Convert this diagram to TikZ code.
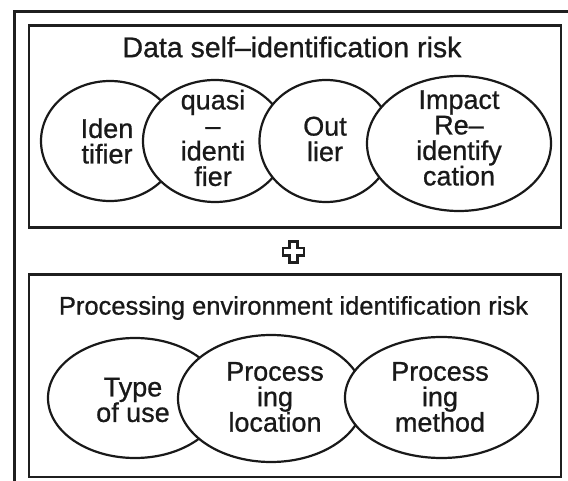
\documentclass[tikz,border=0pt]{standalone}
\usepackage{fontspec}
\setmainfont{Liberation Sans}
\newfontfamily\medfont{Liberation Sans}[BoldFont={Liberation Sans},BoldFeatures={FakeBold=0.8}]
\usetikzlibrary{shapes.geometric}
\begin{document}
\begin{tikzpicture}[x=1pt,y=-1pt,
  frame/.style={draw=black!88, line width=2.6pt},
  panel/.style={frame, rectangle, anchor=north west, inner sep=0pt},
  bub/.style={ellipse, draw=black!90, line width=2.2pt, fill=white, inner sep=0pt},
  lbl/.style={align=center, font=\medfont\bfseries\fontsize{27}{25.5}\selectfont, inner sep=0pt, text=black!90},
  ttl/.style={inner sep=0pt, text=black!90}]
\useasboundingbox (0,0) rectangle (568,481);
\fill[white] (0,0) rectangle (568,481);
% outer frame (open to the right and bottom)
\coordinate (ob) at (14.5,481);
\coordinate (otl) at (14.5,11.5);
\coordinate (otr) at (568,11.5);
\draw[frame] (ob) -- (otl) -- (otr);
% panels
\node[panel, minimum width=532pt, minimum height=202.5pt] (p1) at (27.5,24) {};
\node[panel, minimum width=532pt, minimum height=202pt] (p2) at (27.5,273.5) {};
% titles
\node[ttl, font=\medfont\bfseries\fontsize{28.5}{30}\selectfont] (t1) at (292,47) {Data self–identification risk};
\node[ttl, font=\medfont\bfseries\fontsize{25.5}{28}\selectfont] (t2) at (293.5,308) {Processing environment identification risk};
% top row
\node[bub, minimum width=138pt, minimum height=120pt] (c1) at (110,141) {};
\node[bub, minimum width=144pt, minimum height=122pt] (c2) at (215,141) {};
\node[bub, minimum width=133pt, minimum height=122pt] (c3) at (326,141) {};
\node[bub, minimum width=184pt, minimum height=135pt] (c4) at (459,143.5) {};
\node[lbl] (l1) at (107,141) {Iden\\tifier};
\node[lbl] (l2) at (213,138) {quasi\\–\\identi\\fier};
\node[lbl] (l3) at (325,139) {Out\\lier};
\node[lbl] (l4) at (459,138) {Impact\\Re–\\identify\\cation};
% bottom row
\node[bub, minimum width=174pt, minimum height=120pt] (d1) at (135,398) {};
\node[bub, minimum width=186pt, minimum height=127pt] (d2) at (271,398.5) {};
\node[bub, minimum width=193pt, minimum height=121pt] (d3) at (441.5,397.5) {};
\node[lbl] (m1) at (133,400) {Type\\of use};
\node[lbl] (m2) at (275,397) {Process\\ing\\location};
\node[lbl] (m3) at (440,397) {Process\\ing\\method};
% plus sign
\begin{scope}[shift={(293.5,252)}]
\draw[draw=black!88, line width=2.6pt, line join=miter]
  (-3.8,-10.5) -- (3.8,-10.5) -- (3.8,-3.8) -- (10.5,-3.8) -- (10.5,3.8) -- (3.8,3.8)
  -- (3.8,10.5) -- (-3.8,10.5) -- (-3.8,3.8) -- (-10.5,3.8) -- (-10.5,-3.8) -- (-3.8,-3.8) -- cycle;
\end{scope}
\end{tikzpicture}
\end{document}
